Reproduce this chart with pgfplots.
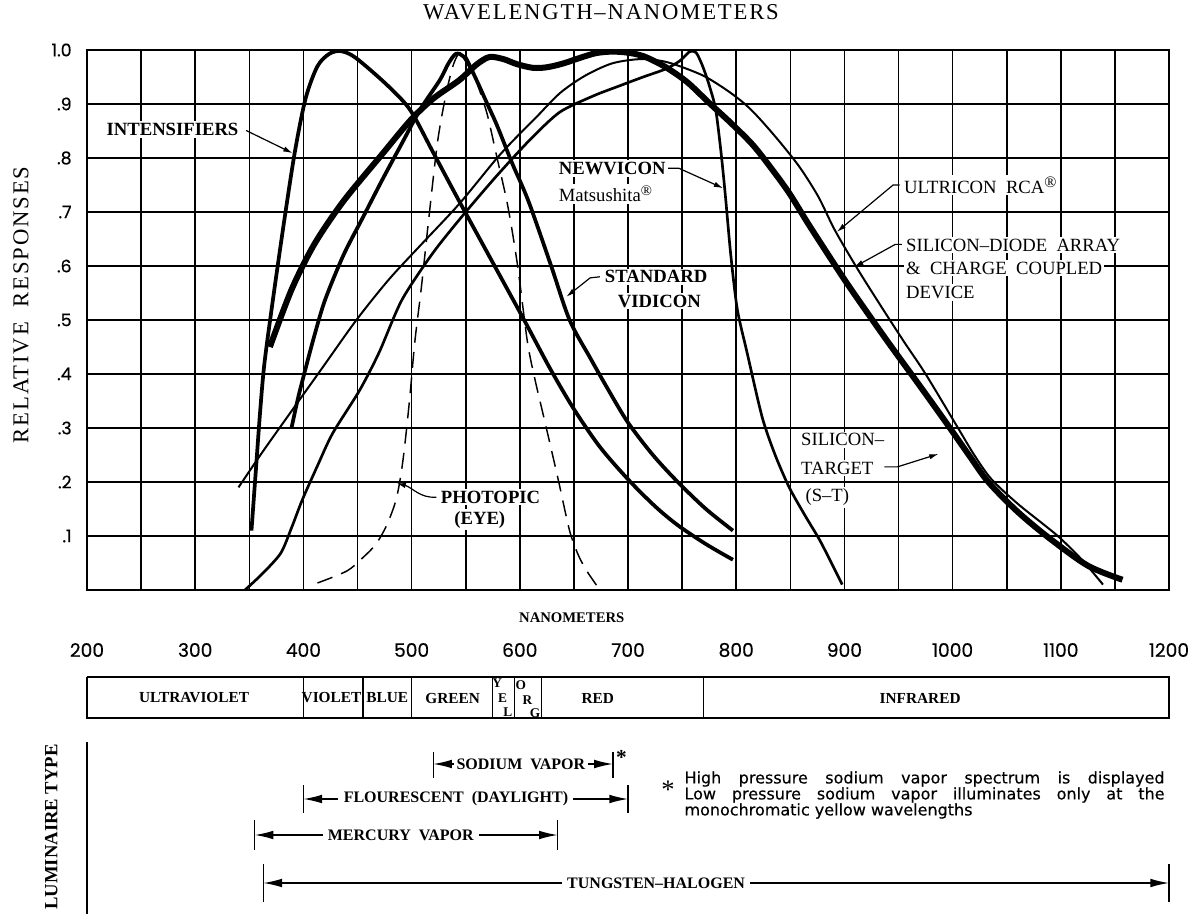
\documentclass[border=0pt]{standalone}
\usepackage{fontspec}
\setmainfont{Liberation Serif}
\newfontfamily\titlefont[LetterSpace=8]{Liberation Serif}
\newfontfamily\numfont[FakeBold=0.4]{Poppins}
\newfontfamily\notefont[FakeBold=0.3]{DejaVu Sans}
\usepackage{pgfplots}
\pgfplotsset{compat=1.18}
\usetikzlibrary{arrows.meta}

\tikzset{
  lab/.style={fill=white, inner sep=1.5pt, font=\fontsize{14}{15}\selectfont},
  blab/.style={fill=white, inner sep=1.5pt, font=\bfseries\fontsize{14}{15}\selectfont},
  lead/.style={line width=0.9pt, -{Latex[length=7pt,width=4pt]}},
  lum/.style={line width=1pt, {Latex[length=14pt,width=6.5pt]}-{Latex[length=14pt,width=6.5pt]}},
  blabsmall/.style={inner sep=0pt, font=\bfseries\fontsize{11.5}{12}\selectfont},
  lumlab/.style={fill=white, inner sep=4pt, font=\bfseries\fontsize{12}{13}\selectfont},
}

\begin{document}
\begin{tikzpicture}[x=1pt,y=1pt]
\useasboundingbox (0,0) rectangle (893.25,685.5);

%================ MAIN CHART =================
\begin{axis}[
  at={(65.25pt,243pt)}, anchor=south west,
  scale only axis, width=811.5pt, height=405pt,
  xmin=200, xmax=1200, ymin=0, ymax=1,
  xtick={200,250,...,1200}, xticklabels={},
  ytick={0.1,0.2,0.3,0.4,0.5,0.6,0.7,0.8,0.9,1.0},
  yticklabels={.1,.2,.3,.4,.5,.6,.7,.8,.9,1.0},
  yticklabel style={font=\numfont\fontsize{13}{13}\selectfont, xshift=-8pt},
  major tick length=0pt,
  grid=major, major grid style={black, line width=1.2pt},
  axis line style={black, line width=1.3pt},
  clip mode=individual,
  title={\titlefont\fontsize{17}{19}\selectfont WAVELENGTH–NANOMETERS},
  title style={at={(axis description cs:0.475,1.0556)}, anchor=center},
  ylabel={\titlefont\fontsize{17}{19}\selectfont RELATIVE\ \ RESPONSES},
  ylabel style={at={(axis description cs:-0.061,0.528)}, anchor=center},
]
% Photopic (eye) - dashed
\addplot[black, line width=1.1pt, smooth, tension=0.5, dash pattern=on 12pt off 7pt] coordinates {
(413,0.013) (440,0.035) (455,0.06) (467,0.085) (477,0.12) (486,0.17) (492,0.24) (498,0.35) (503,0.46) (509,0.56) (516,0.69) (524,0.83) (532,0.92) (539,0.975) (546,0.998) (554,0.975) (562,0.93) (570,0.88) (579,0.80) (589,0.71) (598,0.60) (607,0.46) (614,0.39) (621,0.33) (628,0.27) (636,0.20) (646,0.11) (654,0.065) (662,0.035) (674,0.0)};

% Ultricon (thin)
\addplot[black, line width=1.5pt, smooth, tension=0.5] coordinates {
(340,0.19) (362,0.255) (385,0.32) (417,0.41) (449,0.50) (479,0.575) (509,0.64) (544,0.715) (579,0.80) (600,0.845) (615,0.875) (637,0.92) (660,0.952) (685,0.975) (710,0.983) (730,0.98) (745,0.972) (770,0.952) (791,0.926) (808,0.9) (822,0.872) (841,0.828) (859,0.782) (876,0.728) (891,0.667) (912,0.595) (934,0.525) (955,0.46) (975,0.40) (1005,0.30) (1020,0.25) (1036,0.205) (1060,0.16) (1085,0.12) (1100,0.095) (1120,0.055) (1139,0.01)};

% Newvicon
\addplot[black, line width=2pt, smooth, tension=0.45] coordinates {
(346,0.0) (362,0.03) (379,0.068) (389,0.115) (399,0.167) (413,0.23) (427,0.29) (452,0.37) (470,0.44) (491,0.537) (520,0.625) (550,0.70) (580,0.77) (610,0.835) (637,0.885) (668,0.915) (690,0.932) (714,0.95) (735,0.965) (748,0.98) (757,0.997) (763,0.995) (769,0.97) (775,0.935) (781,0.89) (786,0.81) (790,0.73) (795,0.62) (801,0.52) (810,0.44) (824,0.32) (836,0.25) (849,0.19) (863,0.14) (877,0.093) (888,0.05) (898,0.01)};

% Silicon-diode array & CCD (thickest)
\addplot[black, line width=4.5pt, smooth, tension=0.5] coordinates {
(369,0.45) (389,0.556) (410,0.64) (437,0.72) (474,0.81) (499,0.87) (520,0.91) (544,0.944) (560,0.973) (572,0.987) (585,0.983) (597,0.974) (612,0.967) (625,0.968) (640,0.975) (655,0.985) (670,0.994) (685,0.997) (700,0.995) (715,0.988) (735,0.968) (755,0.94) (775,0.902) (795,0.865) (815,0.825) (832,0.782) (849,0.735) (866,0.68) (884,0.624) (899,0.578) (913,0.537) (940,0.46) (969,0.38) (994,0.31) (1015,0.25) (1033,0.20) (1060,0.145) (1090,0.095) (1125,0.045) (1157,0.019)};

% Intensifiers
\addplot[black, line width=2.8pt, smooth, tension=0.5] coordinates {
(352,0.11) (356,0.22) (360,0.33) (364,0.42) (372,0.54) (382,0.68) (392,0.81) (402,0.91) (413,0.97) (424,0.993) (434,0.998) (445,0.99) (459,0.968) (480,0.93) (499,0.888) (520,0.81) (544,0.72) (574,0.61) (604,0.50) (628,0.41) (650,0.335) (674,0.265) (700,0.205) (725,0.155) (746,0.12) (772,0.085) (797,0.056)};

% Standard vidicon
\addplot[black, line width=2.8pt, smooth, tension=0.5] coordinates {
(389,0.30) (395,0.355) (402,0.41) (410,0.47) (420,0.537) (437,0.62) (455,0.69) (473,0.76) (491,0.827) (508,0.89) (526,0.944) (534,0.975) (541,0.993) (548,0.988) (555,0.965) (561,0.94) (570,0.90) (579,0.86) (593,0.79) (608,0.72) (629,0.60) (646,0.50) (665,0.43) (682,0.37) (700,0.31) (723,0.25) (746,0.20) (772,0.15) (797,0.11)};

% ---- labels ----
\node[blab, anchor=east] at (axis cs:342,0.853) {INTENSIFIERS};
\draw[lead] (axis cs:347,0.851) -- (axis cs:390,0.809);

\node[blab, anchor=west] at (axis cs:634,0.781) {NEWVICON};
\node[blab, anchor=west, font=\fontsize{14}{15}\selectfont] at (axis cs:634,0.733) {Matsushita\raisebox{0.7ex}{\fontsize{11}{11}\selectfont ®}};
\draw[lead] (axis cs:737,0.781) -- (axis cs:747,0.781) -- (axis cs:788,0.744);

\node[blab, anchor=center] at (axis cs:726,0.58) {STANDARD};
\node[blab, anchor=center] at (axis cs:729,0.535) {VIDICON};
\draw[lead] (axis cs:674,0.58) -- (axis cs:665,0.578) -- (axis cs:643,0.543);

\node[blab, anchor=west] at (axis cs:525,0.172) {PHOTOPIC};
\node[blab, anchor=center] at (axis cs:563,0.13) {(EYE)};
\draw[lead] (axis cs:523,0.172) to[out=185,in=-15] (axis cs:486,0.198);

\node[lab, anchor=west] at (axis cs:953,0.75) {ULTRICON\ \ RCA\raisebox{0.7ex}{\fontsize{12}{12}\selectfont ®}};
\draw[lead] (axis cs:951,0.75) -- (axis cs:945,0.75) -- (axis cs:893,0.663);

\node[lab, anchor=west] at (axis cs:955,0.639) {SILICON–DIODE\ \ ARRAY};
\node[lab, anchor=west] at (axis cs:955,0.596) {\&\ \ CHARGE\ \ COUPLED};
\node[lab, anchor=west] at (axis cs:955,0.551) {DEVICE};
\draw[lead] (axis cs:953,0.64) -- (axis cs:947,0.64) -- (axis cs:909,0.598);

\node[lab, anchor=west] at (axis cs:858,0.278) {SILICON–};
\node[lab, anchor=west] at (axis cs:858,0.226) {TARGET};
\node[lab, anchor=west] at (axis cs:862,0.172) {(S–T)};
\draw[lead] (axis cs:937,0.228) -- (axis cs:949,0.228) -- (axis cs:987,0.252);
\end{axis}

%================ LOWER SECTION =================
\begin{axis}[
  at={(65.25pt,0pt)}, anchor=south west,
  scale only axis, width=811.5pt, height=235.5pt,
  xmin=200, xmax=1200, ymin=600, ymax=914, y dir=reverse,
  hide axis, clip=false,
]
\node[font=\bfseries\fontsize{11}{12}\selectfont] at (axis cs:648,618) {NANOMETERS};
\node[font=\numfont\fontsize{14}{14}\selectfont] at (axis cs:200,650) {200};
\node[font=\numfont\fontsize{14}{14}\selectfont] at (axis cs:300,650) {300};
\node[font=\numfont\fontsize{14}{14}\selectfont] at (axis cs:400,650) {400};
\node[font=\numfont\fontsize{14}{14}\selectfont] at (axis cs:500,650) {500};
\node[font=\numfont\fontsize{14}{14}\selectfont] at (axis cs:600,650) {600};
\node[font=\numfont\fontsize{14}{14}\selectfont] at (axis cs:700,650) {700};
\node[font=\numfont\fontsize{14}{14}\selectfont] at (axis cs:800,650) {800};
\node[font=\numfont\fontsize{14}{14}\selectfont] at (axis cs:900,650) {900};
\node[font=\numfont\fontsize{14}{14}\selectfont] at (axis cs:1000,650) {1000};
\node[font=\numfont\fontsize{14}{14}\selectfont] at (axis cs:1100,650) {1100};
\node[font=\numfont\fontsize{14}{14}\selectfont] at (axis cs:1200,650) {1200};

% spectrum band
\addplot[black, line width=1.1pt] coordinates {(200,677) (1200,677) (1200,718) (200,718) (200,677)};
\addplot[black, line width=1pt] coordinates {(400,677) (400,718)};
\addplot[black, line width=1pt] coordinates {(455,677) (455,718)};
\addplot[black, line width=1pt] coordinates {(500,677) (500,718)};
\addplot[black, line width=1pt] coordinates {(575,677) (575,718)};
\addplot[black, line width=1pt] coordinates {(595,677) (595,718)};
\addplot[black, line width=1pt] coordinates {(620,677) (620,718)};
\addplot[black, line width=1pt] coordinates {(770,677) (770,718)};
\node[blabsmall] at (axis cs:299,698) {ULTRAVIOLET};
\node[blabsmall] at (axis cs:426,698) {VIOLET};
\node[blabsmall] at (axis cs:477.5,698) {BLUE};
\node[blabsmall] at (axis cs:538,698) {GREEN};
\node[blabsmall] at (axis cs:672,698) {RED};
\node[blabsmall] at (axis cs:970,698) {INFRARED};
\node[inner sep=0pt, font=\bfseries\fontsize{10}{10}\selectfont] at (axis cs:579,683) {Y};
\node[inner sep=0pt, font=\bfseries\fontsize{10}{10}\selectfont] at (axis cs:584,698) {E};
\node[inner sep=0pt, font=\bfseries\fontsize{10}{10}\selectfont] at (axis cs:589,712) {L};
\node[inner sep=0pt, font=\bfseries\fontsize{10}{10}\selectfont] at (axis cs:601,685) {O};
\node[inner sep=0pt, font=\bfseries\fontsize{10}{10}\selectfont] at (axis cs:607,700) {R};
\node[inner sep=0pt, font=\bfseries\fontsize{10}{10}\selectfont] at (axis cs:614,713) {G};

% luminaire type
\addplot[black, line width=1pt] coordinates {(200,742) (200,914)};
\node[rotate=90, font=\bfseries\fontsize{14}{15}\selectfont] at (axis cs:167,827) {LUMINAIRE TYPE};

% sodium vapor
\addplot[black, line width=1pt] coordinates {(520,752) (520,778)};
\addplot[black, line width=1pt] coordinates {(686,752) (686,778)};
\draw[lum] (axis cs:520,764) -- (axis cs:686,764);
\node[lumlab, inner sep=2pt] at (axis cs:601,764) {SODIUM\ \ VAPOR};
\node[font=\bfseries\fontsize{16}{16}\selectfont] at (axis cs:694,757) {*};

% fluorescent
\addplot[black, line width=1pt] coordinates {(400,785) (400,813)};
\addplot[black, line width=1pt] coordinates {(700,785) (700,813)};
\draw[lum] (axis cs:400,799) -- (axis cs:700,799);
\node[lumlab] at (axis cs:541,799) {FLOURESCENT\ \ (DAYLIGHT)};

% mercury vapor
\addplot[black, line width=1pt] coordinates {(355,820) (355,850)};
\addplot[black, line width=1pt] coordinates {(635,820) (635,850)};
\draw[lum] (axis cs:355,835) -- (axis cs:635,835);
\node[lumlab] at (axis cs:490,835) {MERCURY\ \ VAPOR};

% tungsten-halogen
\addplot[black, line width=1pt] coordinates {(363,864) (363,902)};
\addplot[black, line width=1pt] coordinates {(1200,864) (1200,902)};
\draw[lum] (axis cs:363,883) -- (axis cs:1200,883);
\node[lumlab] at (axis cs:726,883) {TUNGSTEN–HALOGEN};

% footnote
\node[font=\fontsize{20}{20}\selectfont] at (axis cs:737,790) {*};
\node[anchor=west, inner sep=0pt, font=\notefont\fontsize{12}{13}\selectfont] at (axis cs:752,779) {\makebox[360pt][s]{High pressure sodium vapor spectrum is displayed}};
\node[anchor=west, inner sep=0pt, font=\notefont\fontsize{12}{13}\selectfont] at (axis cs:752,795) {\makebox[360pt][s]{Low pressure sodium vapor illuminates only at the}};
\node[anchor=west, inner sep=0pt, font=\notefont\fontsize{12}{13}\selectfont] at (axis cs:752,811) {monochromatic yellow wavelengths};
\end{axis}
\end{tikzpicture}
\end{document}
